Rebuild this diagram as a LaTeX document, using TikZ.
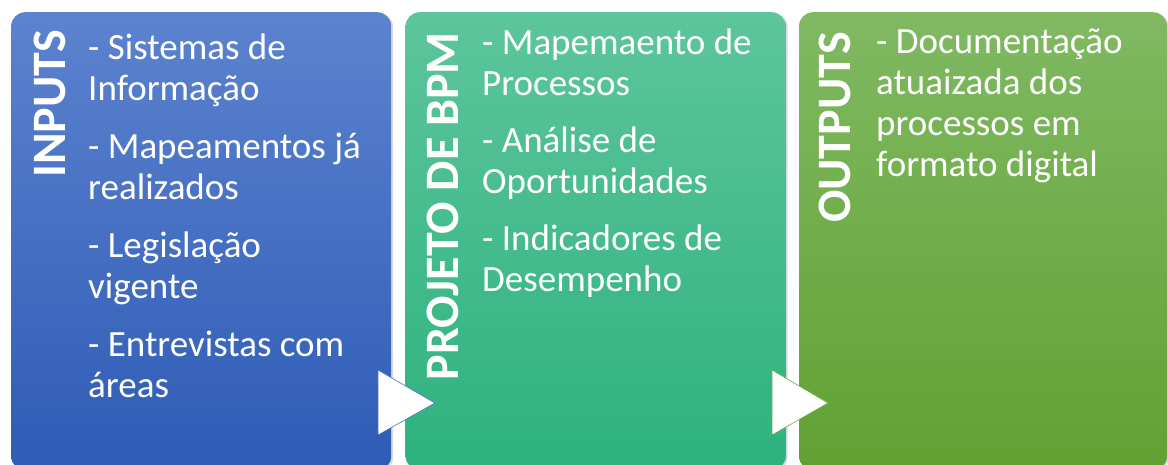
\documentclass[tikz,border=0pt]{standalone}
\usepackage{fontspec}
\setmainfont{Carlito}
\usetikzlibrary{positioning, shadows}
\definecolor{inTop}{HTML}{5C83CF}
\definecolor{inBot}{HTML}{2E5BB5}
\definecolor{bpmTop}{HTML}{5DC59C}
\definecolor{bpmBot}{HTML}{2DB27E}
\definecolor{outTop}{HTML}{80B962}
\definecolor{outBot}{HTML}{61A132}
\definecolor{inEdge}{HTML}{4472C4}
\definecolor{outEdge}{HTML}{70AD47}
\tikzset{
panel/.style={rounded corners=14pt, minimum height=458pt, inner sep=0pt, % the coloured columns
  drop shadow={shadow xshift=2pt, shadow yshift=-1pt, opacity=0.3}},
phase/.style={rotate=90, anchor=base east, inner sep=0pt, text=white,
  font=\fontsize{48}{52}\selectfont\bfseries}, % vertical titles
items/.style={anchor=north west, inner sep=0pt, align=left, text=white,
  font=\fontsize{37}{41}\selectfont}, % the bullet lists
arrowhead/.style={fill=white, line width=0.6pt},
}
\begin{document}
\begin{tikzpicture}[x=1pt, y=-1pt, node distance=14pt]
    \useasboundingbox (0,0) rectangle (1168,465);
    % columns
    \node[panel, minimum width=380pt, top color=inTop, bottom color=inBot, anchor=north west] (inbox) at (11,12) {};
    \node[panel, minimum width=380pt, top color=bpmTop, bottom color=bpmBot, right=14pt of inbox] (bpmbox) {};
    \node[panel, minimum width=368pt, top color=outTop, bottom color=outBot, right=13pt of bpmbox] (outbox) {};
    % titles
    \node[phase] (intitle) at (65,30) {INPUTS};
    \node[phase] (bpmtitle) at (458,32) {PROJETO DE BPM};
    \node[phase] (outtitle) at (850,32) {OUTPUTS};
    % lists
    \node[items] (inlist) at (88,34) {- Sistemas de\\Informação\\[17pt]- Mapeamentos já\\realizados\\[17pt]- Legislação\\vigente\\[17pt]- Entrevistas com\\áreas};
    \node[items] (bpmlist) at (482,29) {- Mapemaento de\\Processos\\[16pt]- Análise de\\Oportunidades\\[16pt]- Indicadores de\\Desempenho};
    \node[items] (outlist) at (876,29) {- Documentação\\atuaizada dos\\processos em\\formato digital};
    % arrow heads between the columns
    \draw[arrowhead, draw=inEdge] (378,370) -- (435,403) -- (378,435) -- cycle;
    \draw[arrowhead, draw=outEdge] (772,370) -- (828,403) -- (772,435) -- cycle;
\end{tikzpicture}
\end{document}
